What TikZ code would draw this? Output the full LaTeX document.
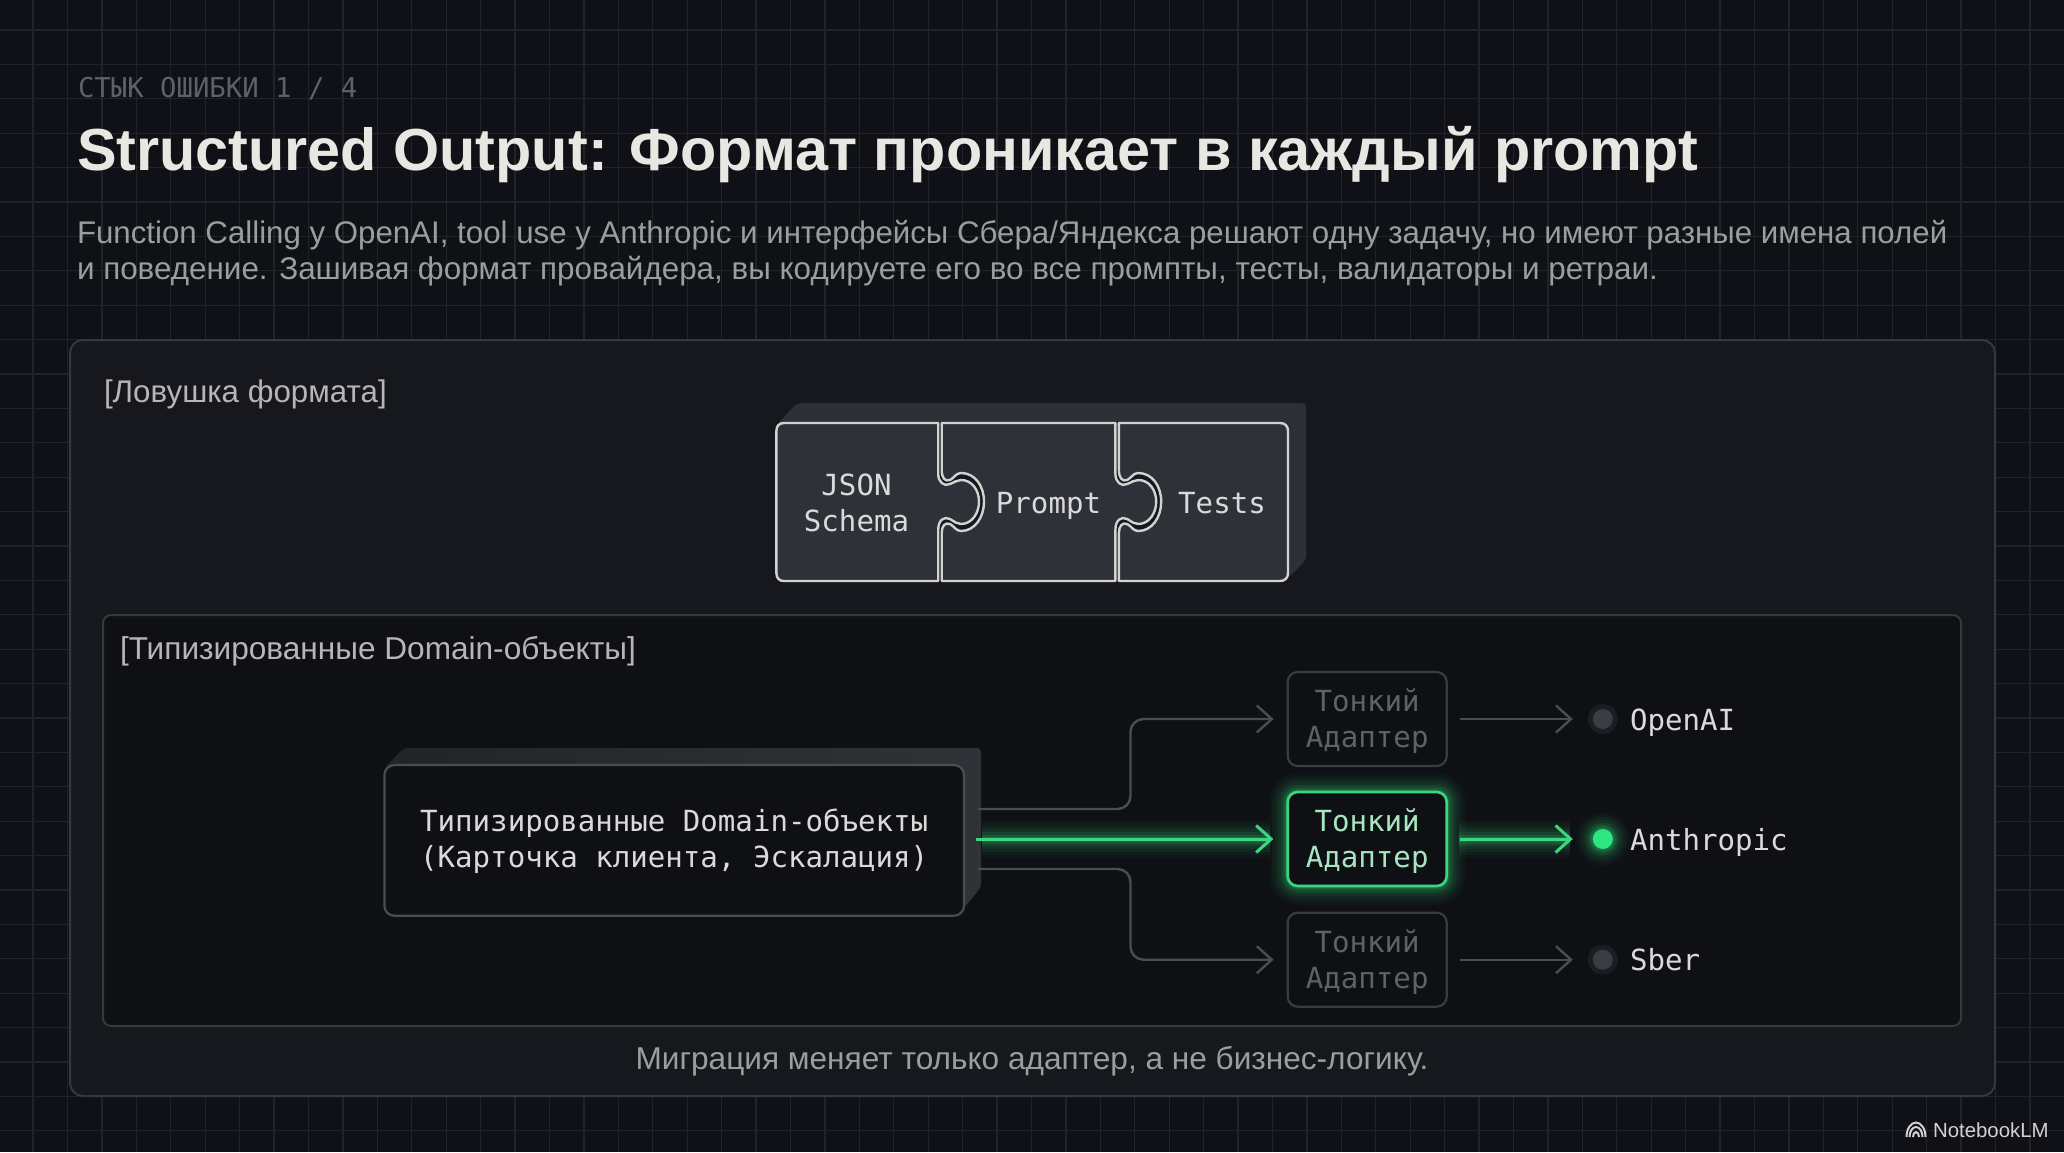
\documentclass[tikz,border=0pt]{standalone}
\usepackage{fontspec}
\setmainfont{Liberation Sans}
\newfontfamily\monof{DejaVu Sans Mono}
\newfontfamily\sansb{Liberation Sans}
\usetikzlibrary{arrows.meta}
\definecolor{pagebg}{HTML}{101116}
\definecolor{gridc}{HTML}{212328}
\definecolor{panelbg}{HTML}{17181D}
\definecolor{panelln}{HTML}{36383E}
\definecolor{innerbg}{HTML}{0F1014}
\definecolor{innerln}{HTML}{36383E}
\definecolor{titlec}{HTML}{E8E7E2}
\definecolor{bodyc}{HTML}{9C9DA0}
\definecolor{headc}{HTML}{5F6166}
\definecolor{labc}{HTML}{B6B6B6}
\definecolor{piecebg}{HTML}{2F3139}
\definecolor{pieceln}{HTML}{D2D2D2}
\definecolor{backbg}{HTML}{2E3038}
\definecolor{dombackl}{HTML}{22242A}
\definecolor{dombackr}{HTML}{303238}
\definecolor{domln}{HTML}{4A4C52}
\definecolor{monoc}{HTML}{DADADA}
\definecolor{dimln}{HTML}{3A3C42}
\definecolor{dimtx}{HTML}{5F6167}
\definecolor{wirec}{HTML}{4B4D53}
\definecolor{greenc}{HTML}{3DD680}
\definecolor{greenw}{HTML}{2FC872}
\definecolor{greentx}{HTML}{A8E6C2}
\definecolor{dotg}{HTML}{2EE681}
\definecolor{dotd}{HTML}{3B3D44}
\definecolor{halod}{HTML}{1C1D22}
\tikzset{
  x=1pt,y=-1pt,
  txt/.style={anchor=base west,inner sep=0pt,outer sep=0pt},
  mono/.style={font=\monof\fontsize{29.1}{36}\selectfont,text=monoc,inner sep=0pt,outer sep=0pt,align=center},
  adapter/.style={draw=dimln,line width=2.2pt,rounded corners=10pt,minimum width=159pt,minimum height=94pt,inner sep=0pt,
     font=\monof\fontsize{29.1}{36}\selectfont,text=dimtx,align=center,fill=innerbg},
  adapteron/.style={adapter,draw=greenc,line width=2.6pt,text=greentx},
  wire/.style={draw=wirec,line width=2.4pt,-{Straight Barb[length=15pt,width=27pt,line width=2.4pt]}},
  wireon/.style={draw=greenc,line width=3pt,-{Straight Barb[length=15pt,width=27pt,line width=3pt]}},
  dotn/.style={circle,inner sep=0pt,minimum size=20pt,fill=dotd},
  dotnon/.style={circle,inner sep=0pt,minimum size=20pt,fill=dotg},
  gridl/.style={draw=gridc,line width=1.3pt},
  piece/.style={fill=piecebg,draw=pieceln,line width=2.4pt,line join=round},
  labelt/.style={font=\fontsize{31.6}{36}\selectfont},
}
\newcommand{\twol}[4]{\rule{0pt}{#1pt}#3\\#4\rule[-#2pt]{0pt}{#2pt}}
\begin{document}
\begin{tikzpicture}
\useasboundingbox (0,0) rectangle (2064,1152);
\fill[pagebg] (0,0) rectangle (2064,1152);
% grid
\foreach \k in {0,...,59}{\draw[gridl] ({33+34.43*\k},0) -- ({33+34.43*\k},1152);}
\foreach \k in {0,...,32}{\draw[gridl] (0,{30+34.4*\k}) -- (2064,{30+34.4*\k});}
% header
\node[txt,font=\monof\fontsize{27.3}{30}\selectfont,text=headc] (kicker) at (78,97) {СТЫК ОШИБКИ 1 / 4};
\node[txt,font=\sansb\bfseries\fontsize{59.35}{70}\selectfont,text=titlec] (title) at (77,170) {Structured Output: Формат проникает в каждый prompt};
\node[txt,font=\fontsize{31.24}{36}\selectfont,text=bodyc] (body1) at (77,243) {Function Calling у OpenAI, tool use у Anthropic и интерфейсы Сбера/Яндекса решают одну задачу, но имеют разные имена полей};
\node[txt,font=\fontsize{31.4}{36}\selectfont,text=bodyc] (body2) at (77,279) {и поведение. Зашивая формат провайдера, вы кодируете его во все промпты, тесты, валидаторы и ретраи.};
% panels
\draw[fill=panelbg,draw=panelln,line width=2pt,rounded corners=13pt] (70,340) rectangle (1995,1096);
\draw[fill=innerbg,draw=innerln,line width=2pt,rounded corners=8pt] (103,615) rectangle (1961,1026);
\node[txt,font=\fontsize{31.3}{36}\selectfont,text=labc] (trap) at (104,402) {[Ловушка формата]};
\node[txt,labelt,text=labc] (typed) at (120,659) {[Типизированные Domain-объекты]};
\node[anchor=base,inner sep=0pt,labelt,text=bodyc] (caption) at (1032,1069) {Миграция меняет только адаптер, а не бизнес-логику.};
% puzzle back
\fill[backbg,rounded corners=4pt] (776,426) -- (797,403) -- (1306,403) -- (1306,560) -- (1288,578) -- (1288,426) -- cycle;
% puzzle pieces
\path[piece]
  (784,423) -- (938.2,423) -- (938.2,474)
  .. controls (938.2,482) and (944,487) .. (950,484)
  .. controls (955,482) and (957,480) .. (961,480)
  .. controls (972,480) and (979,490) .. (979,501.7)
  .. controls (979,513) and (972,524) .. (961,524)
  .. controls (957,524) and (955,522) .. (950,519)
  .. controls (944,516) and (938.2,520) .. (938.2,530)
  -- (938.2,581) -- (784,581)
  .. controls (779,581) and (776.4,578) .. (776.4,573) -- (776.4,431)
  .. controls (776.4,426) and (779,423) .. (784,423) -- cycle;
\path[piece]
  (941.7,423) -- (1115.4,423) -- (1115.4,474)
  .. controls (1115.4,482) and (1121.2,487) .. (1127.2,484)
  .. controls (1132.2,482) and (1134.2,480) .. (1138.2,480)
  .. controls (1149.2,480) and (1156.2,490) .. (1156.2,501.7)
  .. controls (1156.2,513) and (1149.2,524) .. (1138.2,524)
  .. controls (1134.2,524) and (1132.2,522) .. (1127.2,519)
  .. controls (1121.2,516) and (1115.4,520) .. (1115.4,530)
  -- (1115.4,581) -- (941.7,581) -- (941.7,533)
  .. controls (941.7,526) and (945,522) .. (950,524)
  .. controls (954,526) and (956,531) .. (961,531)
  .. controls (975,531) and (984,517) .. (984,501.7)
  .. controls (984,486) and (975,473) .. (961,473)
  .. controls (956,473) and (954,478) .. (950,480)
  .. controls (945,482) and (941.7,478) .. (941.7,470) -- cycle;
\path[piece]
  (1118.9,423) -- (1280,423)
  .. controls (1285,423) and (1288,426) .. (1288,431) -- (1288,573)
  .. controls (1288,578) and (1285,581) .. (1280,581)
  -- (1118.9,581) -- (1118.9,533)
  .. controls (1118.9,526) and (1122.2,522) .. (1127.2,524)
  .. controls (1131.2,526) and (1133.2,531) .. (1138.2,531)
  .. controls (1152.2,531) and (1161.2,517) .. (1161.2,501.7)
  .. controls (1161.2,486) and (1152.2,473) .. (1138.2,473)
  .. controls (1133.2,473) and (1131.2,478) .. (1127.2,480)
  .. controls (1122.2,482) and (1118.9,478) .. (1118.9,470) -- cycle;
\node[mono] (json) at (856.5,501.5) {\twol{26}{3}{JSON}{Schema}};
\node[mono,anchor=base] (prompt) at (1048.5,513) {Prompt};
\node[mono,anchor=base] (tests) at (1222,513) {Tests};
% domain box
\shade[left color=dombackl,right color=dombackr,rounded corners=4pt] (384,768) -- (404,748) -- (981,748) -- (981,887) -- (964,908) -- (964,768) -- cycle;
\node[draw=domln,line width=2.2pt,rounded corners=10pt,fill=innerbg,minimum width=579.6pt,minimum height=150.7pt,inner sep=0pt,
  font=\monof\fontsize{29.1}{36}\selectfont,text=monoc,align=center] (dom) at (674.2,840.4)
  {\twol{26}{7.4}{Типизированные Domain-объекты}{(Карточка клиента, Эскалация)}};
% glow
\foreach \gw/\go in {38/0.035,32/0.045,26/0.06,20/0.08,14/0.11,9/0.15,5/0.2}{
  \draw[greenw,draw opacity=\go,line width=\gw pt,rounded corners=10pt] (1287.8,792) rectangle (1446.7,886);
  \draw[greenw,draw opacity=\go,line width=\gw pt] (982,839) -- (1270,839);
  \draw[greenw,draw opacity=\go,line width=\gw pt] (1459,839) -- (1570,839);
  \fill[greenw,fill opacity=\go] (1602.8,839) circle ({10+\gw*0.45});
}
% adapters
\node[adapter] (a1) at (1367.2,719) {\twol{28}{5}{Тонкий}{Адаптер}};
\node[adapteron] (a2) at (1367.2,839) {\twol{28}{5}{Тонкий}{Адаптер}};
\node[adapter] (a3) at (1367.2,959.7) {\twol{28}{5}{Тонкий}{Адаптер}};
% dots
\fill[halod] (1602.8,719) circle (15);
\fill[halod] (1602.8,959.7) circle (15);
\node[dotn] (d1) at (1602.8,719) {};
\node[dotnon] (d2) at (1602.8,839) {};
\node[dotn] (d3) at (1602.8,959.7) {};
% provider labels
\node[txt,font=\monof\fontsize{29.1}{36}\selectfont,text=monoc] (openai) at (1630,730) {OpenAI};
\node[txt,font=\monof\fontsize{29.1}{36}\selectfont,text=monoc] (anth) at (1630,850) {Anthropic};
\node[txt,font=\monof\fontsize{29.1}{36}\selectfont,text=monoc] (sber) at (1630,970.7) {Sber};
% connectors
\coordinate (o1) at (978,809);
\coordinate (o2) at (976,839);
\coordinate (o3) at (978,869);
\coordinate (b1) at (1130.5,809);
\coordinate (b3) at (1130.5,869);
\draw[wire,rounded corners=13pt,shorten >=13pt] (o1) -- (b1) |- (a1.west);
\draw[wire,rounded corners=13pt,shorten >=13pt] (o3) -- (b3) |- (a3.west);
\draw[wireon,shorten >=13pt] (o2) -- (a2.west);
\draw[wire,shorten <=12pt,shorten >=19.8pt] (a1.east) -- (d1.west);
\draw[wireon,shorten <=12pt,shorten >=19.8pt] (a2.east) -- (d2.west);
\draw[wire,shorten <=12pt,shorten >=19.8pt] (a3.east) -- (d3.west);
% brand
\node[txt,font=\fontsize{20.4}{24}\selectfont,text=pieceln] (brand) at (1933,1137) {NotebookLM};
\foreach \rx/\ry in {3/5,6.5/10,9.5/14.5}{
  \draw[pieceln,line width=2pt] ({1916-\rx},1137) arc[start angle=180,end angle=360,x radius=\rx,y radius=\ry];
}
\end{tikzpicture}
\end{document}
